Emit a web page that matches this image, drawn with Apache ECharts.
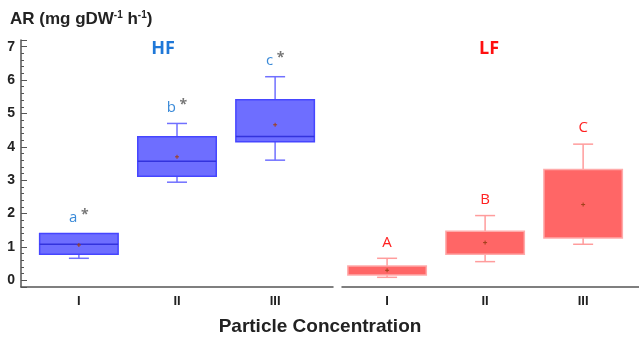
<!DOCTYPE html>
<html lang="en">

<head>
    <meta charset="UTF-8">
    <title>AR box plot</title>
</head>

<body style="margin:0">
    <div id="main" style="width: 639px; height: 339px;"></div>

    <script src="https://cdn.jsdelivr.net/npm/echarts@6/dist/echarts.min.js"></script>
    <script>
        // categories (particle concentration)
        var categories = ['I', 'II', 'III'];
        var groups = ['HF', 'LF'];

        // HF box values
        var hfMin = [0.66, 2.94, 3.60];
        var hfQ1 = [0.78, 3.12, 4.15];
        var hfMedian = [1.08, 3.57, 4.31];
        var hfQ3 = [1.40, 4.30, 5.41];
        var hfMax = [1.40, 4.70, 6.10];
        var hfMean = [1.06, 3.70, 4.66];
        var hfLetters = ['a', 'b', 'c'];

        // LF box values (median line not visible in the figure)
        var lfMin = [0.09, 0.56, 1.08];
        var lfQ1 = [0.16, 0.78, 1.27];
        var lfMedian = [null, null, null];
        var lfQ3 = [0.43, 1.47, 3.32];
        var lfMax = [0.66, 1.94, 4.08];
        var lfMean = [0.30, 1.13, 2.27];
        var lfLetters = ['A', 'B', 'C'];

        var yTicks = [0, 1, 2, 3, 4, 5, 6, 7];

        function buildData(mn, q1, med, q3, mx, mean, letters) {
            return categories.map(function (c, i) {
                return [i + 1, mn[i], q1[i], med[i], q3[i], mx[i], mean[i], letters[i]];
            });
        }

        function makeRender(st) {
            return function (params, api) {
                var x = api.value(0);
                var half = api.size([1, 0])[0] * 0.4;
                var capHalf = 10;
                var pMin = api.coord([x, api.value(1)]);
                var pQ1 = api.coord([x, api.value(2)]);
                var pQ3 = api.coord([x, api.value(4)]);
                var pMax = api.coord([x, api.value(5)]);
                var pMean = api.coord([x, api.value(6)]);
                var cx = pQ1[0];
                var kids = [];
                var wStyle = { stroke: st.whisker, lineWidth: 1.5 };
                // whiskers
                if (pMax[1] < pQ3[1] - 0.5) {
                    kids.push({ type: 'line', shape: { x1: cx, y1: pQ3[1], x2: cx, y2: pMax[1] }, style: wStyle });
                    kids.push({ type: 'line', shape: { x1: cx - capHalf, y1: pMax[1], x2: cx + capHalf, y2: pMax[1] }, style: wStyle });
                }
                if (pMin[1] > pQ1[1] + 0.5) {
                    kids.push({ type: 'line', shape: { x1: cx, y1: pQ1[1], x2: cx, y2: pMin[1] }, style: wStyle });
                    kids.push({ type: 'line', shape: { x1: cx - capHalf, y1: pMin[1], x2: cx + capHalf, y2: pMin[1] }, style: wStyle });
                }
                // box
                kids.push({
                    type: 'rect',
                    shape: { x: cx - half, y: pQ3[1], width: half * 2, height: pQ1[1] - pQ3[1] },
                    style: { fill: st.fill, stroke: st.border, lineWidth: 1.5 }
                });
                // median
                var med = api.value(3);
                if (med !== null && !isNaN(med)) {
                    var pMed = api.coord([x, med]);
                    kids.push({ type: 'line', shape: { x1: cx - half, y1: pMed[1], x2: cx + half, y2: pMed[1] }, style: { stroke: st.median, lineWidth: 1.5 } });
                }
                // mean marker
                var ms = { stroke: '#a0401a', lineWidth: 1 };
                kids.push({ type: 'line', shape: { x1: cx - 2, y1: pMean[1], x2: cx + 2, y2: pMean[1] }, style: ms });
                kids.push({ type: 'line', shape: { x1: cx, y1: pMean[1] - 2, x2: cx, y2: pMean[1] + 2 }, style: ms });
                // significance letter
                var top = Math.min(pMax[1], pQ3[1]);
                kids.push({
                    type: 'text',
                    style: {
                        x: cx, y: top - 16,
                        text: st.star ? '{l|' + api.value(7) + '}{s| *}' : '{l|' + api.value(7) + '}',
                        align: 'center', verticalAlign: 'middle',
                        rich: {
                            l: { fill: st.letter, fontSize: 15, fontFamily: 'Open Sans' },
                            s: { fill: '#777777', fontSize: 14, fontWeight: 'bold', fontFamily: 'Open Sans', padding: [0, 0, 5, 0] }
                        }
                    }
                });
                return { type: 'group', children: kids };
            };
        }

        var myChart = echarts.init(document.getElementById('main'));

        var yAxisCommon = {
            type: 'value',
            min: -0.2,
            max: 7.2,
            splitNumber: 7,
            splitLine: { show: false }
        };

        var option = {
            backgroundColor: '#ffffff',
            animation: false,
            grid: [
                { left: 21, right: 306, top: 40, bottom: 52 },
                { left: 342, right: 0, top: 40, bottom: 52 }
            ],
            xAxis: [0, 1].map(function (g) {
                return {
                    type: 'value',
                    gridIndex: g,
                    min: g === 0 ? 0.41 : 0.54,
                    max: g === 0 ? 3.59 : 3.57,
                    splitNumber: 3,
                    splitLine: { show: false },
                    axisTick: { show: false },
                    axisLine: { show: true, onZero: false, lineStyle: { color: '#555555', width: 1.5 } },
                    axisLabel: {
                        margin: 8,
                        color: '#222222',
                        fontWeight: 'bold',
                        fontSize: 13,
                        fontFamily: 'Liberation Sans',
                        showMinLabel: false,
                        showMaxLabel: false,
                        formatter: function (v) {
                            var i = Math.round(v);
                            return Math.abs(v - i) < 1e-6 && categories[i - 1] ? categories[i - 1] : '';
                        }
                    }
                };
            }),
            yAxis: [
                Object.assign({}, yAxisCommon, {
                    gridIndex: 0,
                    axisLine: { show: true, onZero: false, lineStyle: { color: '#555555', width: 1.5 } },
                    axisTick: { show: true, inside: true, length: 6, lineStyle: { color: '#555555' } },
                    minorTick: { show: true, splitNumber: 5, length: 3, lineStyle: { color: '#555555' } },
                    axisLabel: {
                        margin: 6,
                        color: '#222222',
                        fontWeight: 'bold',
                        fontSize: 14,
                        fontFamily: 'Liberation Sans',
                        formatter: function (v) {
                            return yTicks.indexOf(v) >= 0 ? String(v) : '';
                        }
                    }
                }),
                Object.assign({}, yAxisCommon, { gridIndex: 1, show: false })
            ],
            graphic: [
                {
                    type: 'text', left: 10, top: 10,
                    style: {
                        text: '{b|AR (mg gDW}{s|-1}{b| h}{s|-1}{b|)}',
                        rich: {
                            b: { fontSize: 17, fontWeight: 'bold', fontFamily: 'Liberation Sans', fill: '#222222' },
                            s: { fontSize: 10, fontWeight: 'bold', fontFamily: 'Liberation Sans', fill: '#222222', padding: [0, 0, 8, 0] }
                        }
                    }
                },
                {
                    type: 'text', x: 163, y: 49,
                    style: { text: groups[0], align: 'center', verticalAlign: 'middle', fill: '#1f78d8', fontSize: 18, fontWeight: 'bold', fontFamily: 'Open Sans' }
                },
                {
                    type: 'text', x: 489, y: 49,
                    style: { text: groups[1], align: 'center', verticalAlign: 'middle', fill: '#ff1010', fontSize: 18, fontWeight: 'bold', fontFamily: 'Open Sans' }
                },
                {
                    type: 'text', x: 320, y: 327,
                    style: { text: 'Particle Concentration', align: 'center', verticalAlign: 'middle', fill: '#222222', fontSize: 19, fontWeight: 'bold', fontFamily: 'Liberation Sans' }
                }
            ],
            series: [
                {
                    name: groups[0],
                    type: 'custom',
                    xAxisIndex: 0,
                    yAxisIndex: 0,
                    renderItem: makeRender({ fill: '#6e6eff', border: '#4646ff', median: '#3333dd', whisker: '#7070ff', letter: '#3a8ad8', star: true }),
                    encode: { x: 0, y: [1, 5] },
                    data: buildData(hfMin, hfQ1, hfMedian, hfQ3, hfMax, hfMean, hfLetters)
                },
                {
                    name: groups[1],
                    type: 'custom',
                    xAxisIndex: 1,
                    yAxisIndex: 1,
                    renderItem: makeRender({ fill: '#ff6666', border: '#ffaaaa', median: '#ff6666', whisker: '#ff9c9c', letter: '#ff2020', star: false }),
                    encode: { x: 0, y: [1, 5] },
                    data: buildData(lfMin, lfQ1, lfMedian, lfQ3, lfMax, lfMean, lfLetters)
                }
            ]
        };
        myChart.setOption(option);
    </script>
</body>

</html>
